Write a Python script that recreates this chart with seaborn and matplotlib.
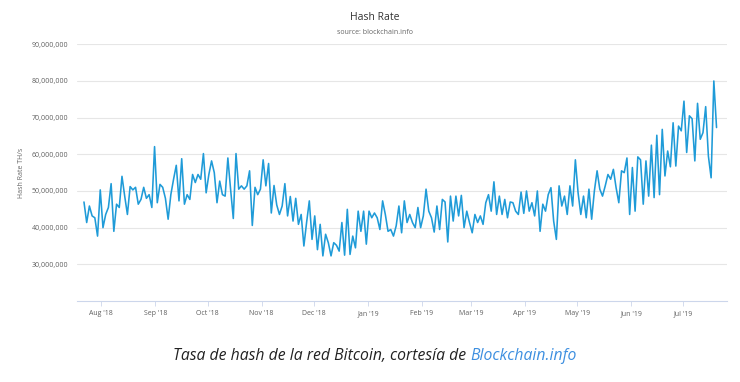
import numpy as np
import pandas as pd
import matplotlib
matplotlib.use("Agg")
import matplotlib.pyplot as plt
import seaborn as sns
from matplotlib.ticker import FuncFormatter

# ---- data (values in millions of TH/s) ----
start_date = "2018-07-22"
end_date = "2019-07-20"
hash_rate_m = [
    47, 41.4, 45.9, 43.2, 42.7, 37.7, 50.3, 40, 43.6, 45.5, 52, 39, 46.4, 45.5, 54,
    48.6, 43.6, 51.2, 50.3, 51, 46.4, 47.7, 51, 48, 49, 45.5, 62.1, 46.8, 51.8, 51,
    48, 42.3, 49, 53.2, 57, 47.3, 58.8, 46.4, 49, 47.7, 54.5, 52.3, 54.5, 53.2, 60.2,
    49.5, 54.5, 58.2, 55, 46.8, 52.7, 49, 48.6, 59, 50.5, 42.5, 60.2, 50.5, 51.4, 50.5,
    51.4, 55.5, 40.6, 51, 49, 50.5, 58.5, 51.4, 57.5, 44, 51.5, 46.2, 43.6, 45.9, 52,
    43.2, 48.5, 41.8, 48, 40.9, 43.6, 35, 41.4, 47.3, 36.8, 43.2, 34, 40.9, 32.3, 38.2,
    35.9, 32.3, 35.9, 35.2, 33.6, 41.4, 32.5, 45, 32.7, 37.7, 34.5, 44.5, 39, 44.5, 35.5,
    44.5, 42.7, 44, 42.7, 39.5, 47.3, 43.6, 39,
    39.5, 37.7, 40.5, 45.9, 38.6, 47.3, 41.4, 43.6, 41.4, 40, 45.5, 40, 43.2, 50.5, 44.5,
    42.7, 38.8, 45.9, 39.5, 47.7, 47, 36.1, 48.6, 41.8, 48.6, 43.2, 48.8, 40, 44.5, 41.4,
    38.6, 43.6, 41.4, 43.2, 40.9, 46.8, 49, 44.5, 52.5, 43.6, 48.6, 43.6, 47.7, 42.7, 47,
    46.8, 44.5, 43.6, 49.7, 43.9, 50, 44.5, 46.8, 43.2, 50, 39, 46.4, 44.5, 49, 50.9,
    41.8, 36.8, 51.4, 45.9, 48.6, 43.6, 51.4, 45.9, 58.5, 49.5, 43.6, 48.6, 42.7, 50.5, 42.3,
    50, 55.5, 50.5, 48.6, 51.4, 54.5, 53.2, 55.9, 50.9, 46.8, 55.5, 55, 59, 43.6, 56.4,
    44.5, 59.3, 58.5, 46.4, 58.2, 48.6, 62.5, 48.2, 65.2, 49, 66.8, 54.1, 60.9, 56.6, 68.6,
    56.8, 67.7, 66.4, 74.5, 60.5, 70.5, 69.7, 58.2, 73.9, 64.1, 65.9, 73, 59.5, 53.6, 80,
    67.3,
]
month_ticks = pd.date_range("2018-08-01", "2019-07-01", freq="MS")
month_labels = [d.strftime("%b '%y") for d in month_ticks]
y_ticks = [30e6, 40e6, 50e6, 60e6, 70e6, 80e6, 90e6]

title = "Hash Rate"
subtitle = "source: blockchain.info"
y_label = "Hash Rate TH/s"
caption_main = "Tasa de hash de la red Bitcoin, cortesía de "
caption_link = "Blockchain.info"

# ---- style ----
sns.set_theme(style="white")
plt.rcParams["font.family"] = ["Open Sans", "DejaVu Sans"]

W, H = 740, 382
fig = plt.figure(figsize=(W / 100, H / 100), dpi=100)
fig.patch.set_facecolor("white")
ax = fig.add_axes([77 / W, 1 - 301 / H, 650 / W, (301 - 44.3) / H])

df = pd.DataFrame({
    "date": pd.date_range(start_date, end_date, periods=len(hash_rate_m)),
    "hash": np.array(hash_rate_m) * 1e6,
})
sns.lineplot(data=df, x="date", y="hash", ax=ax, color="#1f9bd8", linewidth=1.15)

ax.set_ylim(20e6, 90e6)
ax.set_xlim(pd.Timestamp("2018-07-18"), pd.Timestamp("2019-07-26"))
ax.set_yticks(y_ticks)
ax.yaxis.set_major_formatter(FuncFormatter(lambda v, p: f"{v:,.0f}"))
ax.set_xticks(month_ticks)
ax.set_xticklabels(month_labels)
ax.grid(axis="y", color="#e6e6e6", linewidth=0.8)
ax.grid(axis="x", visible=False)
for s in ["top", "right", "left"]:
    ax.spines[s].set_visible(False)
ax.spines["bottom"].set_color("#ccd6eb")
ax.spines["bottom"].set_linewidth(0.8)
ax.tick_params(axis="y", length=0, pad=6, labelsize=5, labelcolor="#606060")
ax.tick_params(axis="x", bottom=True, length=3.5, width=0.6, color="#ccd6eb", pad=3,
               labelsize=5, labelcolor="#606060")
ax.set_xlabel("")
ax.set_ylabel(y_label, fontsize=5, color="#666666")
ax.yaxis.set_label_coords((25 - 77) / 650, 0.5)

fig.text(375 / W, 1 - 18 / H, title, ha="center", va="center", fontsize=7.5, color="#333333")
fig.text(375 / W, 1 - 33 / H, subtitle, ha="center", va="center", fontsize=5, color="#666666")

# caption with coloured link part, centred as a whole
fig.canvas.draw()
r = fig.canvas.get_renderer()
t1 = fig.text(0, 1 - 356 / H, caption_main, ha="left", va="center", fontsize=11.3,
              style="italic", color="#222222")
t2 = fig.text(0, 1 - 356 / H, caption_link, ha="left", va="center", fontsize=11.3,
              style="italic", color="#3d8fe0")
w1 = t1.get_window_extent(r).width
w2 = t2.get_window_extent(r).width
x0 = 375 - (w1 + w2) / 2
t1.set_x(x0 / W)
t2.set_x((x0 + w1) / W)

fig.savefig("out.png", dpi=100, facecolor="white")
